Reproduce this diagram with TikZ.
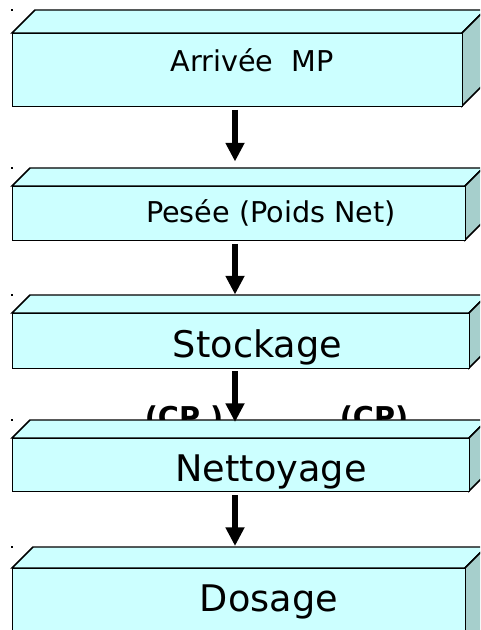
\documentclass[tikz,border=0pt]{standalone}
\usepackage{fontspec}
\setmainfont{DejaVu Sans}
\usetikzlibrary{arrows.meta}

\definecolor{facefront}{HTML}{CCFFFF}
\definecolor{facetop}{HTML}{CCFFFF}
\definecolor{faceside}{HTML}{A6CFCC}

\tikzset{
  edge/.style={draw=black, line width=1.1pt, line join=miter},
  frontface/.style={edge, fill=facefront, rectangle, inner sep=0pt, anchor=north west},
  flow/.style={line width=4pt, -{Triangle[width=13.5pt,length=14pt]}},
  label/.style={anchor=base, inner sep=0pt, font=\fontsize{21.5pt}{24pt}\selectfont},
  biglabel/.style={anchor=base, inner sep=0pt, font=\fontsize{27.5pt}{30pt}\selectfont},
  cplabel/.style={anchor=base, inner sep=0pt, font=\fontsize{21.5pt}{24pt}\selectfont\bfseries},
  dot/.style={fill=black, inner sep=0pt, minimum size=1.5pt, rectangle}
}

% one flat 3-D slab: #1 left, #2 top, #3 right, #4 bottom, #5 depth, #6 name
\newcommand{\slab}[6]{%
  \path[edge, fill=facetop] (#1,#2) -- (#1+#5,#2-#5) -- (#3+#5,#2-#5) -- (#3,#2) -- cycle;
  \path[edge, fill=faceside] (#3,#2) -- (#3+#5,#2-#5) -- (#3+#5,#4-#5) -- (#3,#4) -- cycle;
  \node[frontface, minimum width={(#3-#1)*0.75pt}, minimum height={(#4-#2)*0.75pt}] (#6) at (#1,#2) {};
  \node[dot] at (12,#2-#5) {};
}

\begin{document}
\begin{tikzpicture}[x=0.75pt, y=-0.75pt]
  \useasboundingbox (0,0) rectangle (480,630);
  \fill[white] (0,0) rectangle (480,630);
  \clip (0,0) rectangle (480,630);

  % quality-control marks, partly hidden by the cleaning slab
  \node[cplabel] (cp1) at (184,427) {(CP )};
  \node[cplabel] (cp2) at (374,427) {(CP)};

  % process slabs
  \slab{12}{33}{462}{106}{23}{b1}
  \slab{12}{186}{465}{240}{18}{b2}
  \slab{12}{313}{469}{368}{18}{b3}
  \slab{12}{438}{469}{491}{18}{b4}
  \slab{12}{568}{465}{660}{21}{b5}

  % labels
  \node[label] (t1) at (252,72) {Arrivée\ \ MP};
  \node[label] (t2) at (271,222.7) {Pesée (Poids Net)};
  \node[biglabel] (t3) at (257.5,357) {Stockage};
  \node[biglabel] (t4) at (271,481.7) {Nettoyage};
  \node[biglabel] (t5) at (269,611.7) {Dosage};

  % flow arrows between the slabs
  \coordinate (s1) at (235,110);  \coordinate (e1) at (235,161.5);
  \coordinate (s2) at (235,244);  \coordinate (e2) at (235,294.5);
  \coordinate (s3) at (235,371);  \coordinate (e3) at (235,422);
  \coordinate (s4) at (235,495);  \coordinate (e4) at (235,546);
  \draw[flow] (s1) -- (e1);
  \draw[flow] (s2) -- (e2);
  \draw[flow] (s3) -- (e3);
  \draw[flow] (s4) -- (e4);
\end{tikzpicture}
\end{document}
